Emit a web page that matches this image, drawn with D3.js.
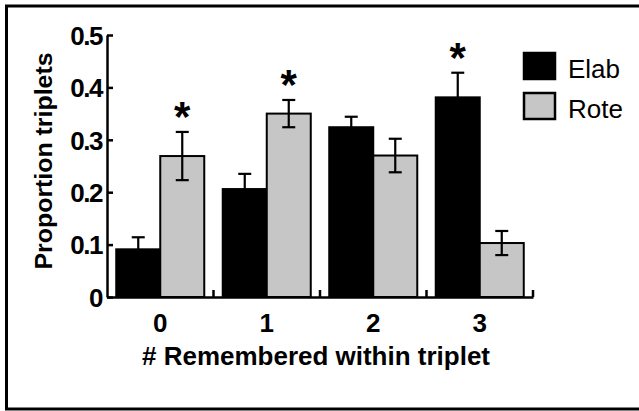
<!DOCTYPE html>
<html>
<head>
<meta charset="utf-8">
<script src="https://cdn.jsdelivr.net/npm/d3@7"></script>
<style>
  body { margin: 0; background: #fff; }
  svg text { font-family: "Liberation Sans", Arial, sans-serif; }
</style>
</head>
<body>
<svg id="chart" width="639" height="411"></svg>
<script>
// data
let categories = ["0", "1", "2", "3"];
let series = ["Elab", "Rote"];
let elab_values = [0.091, 0.206, 0.324, 0.381];
let elab_errors = [0.023, 0.029, 0.020, 0.047];
let rote_values = [0.269, 0.350, 0.270, 0.103];
let rote_errors = [0.046, 0.026, 0.032, 0.023];
let significant = [["0", "Rote"], ["1", "Rote"], ["3", "Elab"]];
let y_ticks = [0, 0.1, 0.2, 0.3, 0.4, 0.5];

let colors = { Elab: "#000000", Rote: "#c6c6c6" };

let svg = d3.select("#chart");

// outer frame (right edge runs off the picture)
svg.append("rect")
  .attr("x", 6.5).attr("y", 6)
  .attr("width", 660).attr("height", 403)
  .attr("fill", "none").attr("stroke", "#000").attr("stroke-width", 3);

let x = d3.scaleBand().domain(categories).range([107, 533]).padding(0);
let x_inner = d3.scaleBand().domain(series).range([0, x.bandwidth()])
  .paddingInner(0).paddingOuter(0.21);
let y = d3.scaleLinear().domain([0, 0.5]).range([297, 35]);

let rows = [];
categories.forEach((c, i) => {
  rows.push({ cat: c, name: "Elab", value: elab_values[i], err: elab_errors[i] });
  rows.push({ cat: c, name: "Rote", value: rote_values[i], err: rote_errors[i] });
});

// bars
svg.append("g").selectAll("rect").data(rows).join("rect")
  .attr("x", (d) => x(d.cat) + x_inner(d.name))
  .attr("y", (d) => y(d.value))
  .attr("width", x_inner.bandwidth())
  .attr("height", (d) => y(0) - y(d.value))
  .attr("fill", (d) => colors[d.name])
  .attr("stroke", "#000")
  .attr("stroke-width", 2);

// error bars
let err_g = svg.append("g").attr("stroke", "#000").attr("stroke-width", 2.2);
rows.forEach((d) => {
  let cx = x(d.cat) + x_inner(d.name) + x_inner.bandwidth() / 2;
  let top = y(d.value + d.err);
  let bottom = y(d.value - d.err);
  err_g.append("line").attr("x1", cx).attr("x2", cx).attr("y1", top).attr("y2", bottom);
  err_g.append("line").attr("x1", cx - 6.5).attr("x2", cx + 6.5).attr("y1", top).attr("y2", top);
  err_g.append("line").attr("x1", cx - 6.5).attr("x2", cx + 6.5).attr("y1", bottom).attr("y2", bottom);
});

// significance stars
significant.forEach((s) => {
  let d = rows.find((r) => r.cat == s[0] && r.name == s[1]);
  let cx = x(d.cat) + x_inner(d.name) + x_inner.bandwidth() / 2;
  svg.append("text")
    .text("*")
    .attr("x", cx)
    .attr("y", y(d.value + d.err) - 1)
    .attr("text-anchor", "middle")
    .style("font-size", "42px")
    .style("font-weight", "bold");
});

// y axis
let y_axis = svg.append("g")
  .attr("transform", "translate(107,0)")
  .call(d3.axisLeft(y).tickValues(y_ticks)
    .tickFormat((d) => d == 0 ? "0" : d3.format(".1f")(d))
    .tickSizeInner(-6).tickSizeOuter(0).tickPadding(5));
y_axis.select(".domain").attr("stroke-width", 2.5);
y_axis.selectAll(".tick line").attr("stroke-width", 2.5);
y_axis.selectAll(".tick text")
  .attr("dy", "0.36em")
  .style("font-size", "26px")
  .style("font-weight", "bold")
  .style("letter-spacing", "-1.5px")
  .attr("fill", "#000");

// x axis
let x_axis = svg.append("g")
  .attr("transform", "translate(0,297)")
  .call(d3.axisBottom(x).tickSize(0).tickPadding(17));
x_axis.select(".domain").attr("stroke-width", 2.5);
x_axis.selectAll(".tick text")
  .attr("dy", "0.71em")
  .style("font-size", "26px")
  .style("font-weight", "bold")
  .attr("fill", "#000");
categories.forEach((c) => {
  let bx = x(c) + x.bandwidth();
  svg.append("line")
    .attr("x1", bx).attr("x2", bx).attr("y1", 297).attr("y2", 290)
    .attr("stroke", "#000").attr("stroke-width", 2.5);
});

// axis titles
svg.append("text")
  .text("# Remembered within triplet")
  .attr("x", 316).attr("y", 365)
  .attr("text-anchor", "middle")
  .attr("textLength", 348).attr("lengthAdjust", "spacingAndGlyphs")
  .style("font-size", "25px")
  .style("font-weight", "bold");

svg.append("text")
  .text("Proportion triplets")
  .attr("transform", "translate(52,161) rotate(-90)")
  .attr("text-anchor", "middle")
  .attr("textLength", 217).attr("lengthAdjust", "spacingAndGlyphs")
  .style("font-size", "24px")
  .style("font-weight", "bold");

// legend
let legend = svg.append("g").attr("transform", "translate(524,53)");
series.forEach((s, i) => {
  let row = legend.append("g").attr("transform", `translate(0,${i * 40})`);
  row.append("rect")
    .attr("x", 0).attr("y", 0).attr("width", 31).attr("height", 26)
    .attr("fill", colors[s]).attr("stroke", "#000").attr("stroke-width", 2.5);
  row.append("text")
    .text(s)
    .attr("x", 44).attr("y", 25)
    .style("font-size", "26px");
});
</script>
</body>
</html>
